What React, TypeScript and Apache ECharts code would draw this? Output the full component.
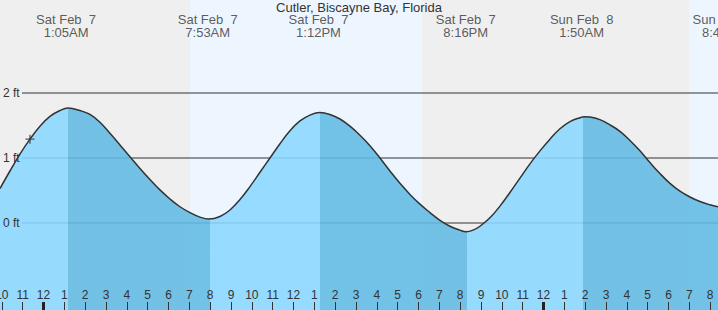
import { useEffect, useRef } from "react";
import * as echarts from "echarts";

// ---------- data ----------
const chartTitle = "Cutler, Biscayne Bay, Florida";

// hours since Sat Feb 7 00:00 and tide height in feet
const tideHours = [
  -2.09, -1.61, -1.13, -0.65, -0.17, 0.31, 0.79, 1.18, 1.75, 2.23, 2.71, 3.19,
  3.67, 4.2, 4.63, 5.11, 5.59, 6.07, 6.55, 7.03, 7.51, 7.94, 8.47, 8.95, 9.43,
  9.91, 10.39, 10.87, 11.35, 11.83, 12.31, 12.79, 13.27, 13.75, 14.23, 14.71,
  15.19, 15.67, 16.15, 16.63, 17.11, 17.59, 18.07, 18.55, 19.03, 19.51, 19.99,
  20.28, 20.62, 20.95, 21.43, 21.91, 22.39, 22.87, 23.35, 23.83, 24.31, 24.79,
  25.27, 25.75, 25.95, 26.23, 26.71, 27.19, 27.67, 28.15, 28.63, 29.11, 29.59,
  30.07, 30.55, 31.03, 31.51, 31.99, 32.38,
];
const tideFeet = [
  0.53, 0.8, 1.06, 1.29, 1.49, 1.64, 1.73, 1.77, 1.73, 1.67, 1.55, 1.38,
  1.2, 1.0, 0.84, 0.67, 0.51, 0.37, 0.25, 0.16, 0.09, 0.06, 0.1, 0.2, 0.36,
  0.56, 0.78, 1.0, 1.22, 1.42, 1.57, 1.66, 1.7, 1.67, 1.6, 1.49,
  1.35, 1.19, 1.0, 0.8, 0.61, 0.44, 0.29, 0.16, 0.04, -0.05, -0.11,
  -0.134, -0.11, -0.05, 0.08, 0.26, 0.47, 0.69, 0.91, 1.11, 1.29, 1.45,
  1.56, 1.62, 1.635, 1.63, 1.59, 1.51, 1.41, 1.27, 1.11, 0.93, 0.76,
  0.61, 0.49, 0.4, 0.33, 0.28, 0.25,
];

// high / low tide events
const eventHours = [1.083, 7.883, 13.2, 20.267, 25.833, 32.68];
const eventDays = ["Sat Feb  7", "Sat Feb  7", "Sat Feb  7", "Sat Feb  7", "Sun Feb  8", "Sun Feb  8"];
const eventTimes = ["1:05AM", "7:53AM", "1:12PM", "8:16PM", "1:50AM", "8:41AM"];

// falling-tide (ebb) spans
const ebbStartHours = [1.18, 13.27, 25.9];
const ebbEndHours = [7.99, 20.33, 32.7];

// daylight spans
const sunriseHours = [7.03, 31.0];
const sunsetHours = [18.17, 42.17];

// axis ticks
const hourTicks = [
  -2, -1, 0, 1, 2, 3, 4, 5, 6, 7, 8, 9, 10, 11, 12, 13, 14, 15, 16, 17, 18,
  19, 20, 21, 22, 23, 24, 25, 26, 27, 28, 29, 30, 31, 32,
];
const midnightTicks = [0, 24];
const footTicks = [0, 1, 2];

// current-time marker
const nowHour = -0.65;
const nowFeet = 1.29;

// ---------- layout / style ----------
const W = 718;
const H = 310;
const PX_PER_HOUR = 500 / 24;
const ORIGIN_PX = 43.5;
const ZERO_PX = 223;
const PX_PER_FT = 65;
const X_MIN = -ORIGIN_PX / PX_PER_HOUR;
const X_MAX = (W - ORIGIN_PX) / PX_PER_HOUR;
const Y_MAX = ZERO_PX / PX_PER_FT;
const Y_MIN = -(H - ZERO_PX) / PX_PER_FT;
const LINE_START = X_MIN + 22 / PX_PER_HOUR;
const LABEL_FT = Y_MAX - 26 / PX_PER_FT;

const FONT = "'Liberation Sans', Arial, Helvetica, sans-serif";
const TEXT = "#333";
const NIGHT = "#efefef";
const DAY = "#edf6ff";
const WATER_LIGHT = "rgba(138,216,255,0.88)";
const WATER_DARK = "rgba(98,186,228,0.88)";

function clockLabel(h: number) {
  const v = ((Math.round(h) % 12) + 12) % 12;
  return String(v === 0 ? 12 : v);
}

export default function App() {
  const ref = useRef<HTMLDivElement>(null);

  useEffect(() => {
    if (!ref.current) return;
    const chart = echarts.init(ref.current, undefined, { renderer: "svg" });

    // visual pieces: light for rising, dark for falling
    const bounds = [X_MIN - 5];
    ebbStartHours.forEach((s, i) => {
      bounds.push(s, ebbEndHours[i]);
    });
    bounds.push(X_MAX + 5);
    const pieces = [];
    for (let i = 0; i < bounds.length - 1; i++) {
      pieces.push({
        gte: bounds[i],
        lt: bounds[i + 1],
        color: i % 2 === 0 ? WATER_LIGHT : WATER_DARK,
      });
    }

    const bgAreas: any[] = [
      [{ xAxis: X_MIN, itemStyle: { color: NIGHT } }, { xAxis: X_MAX }],
    ];
    sunriseHours.forEach((s, i) => {
      bgAreas.push([
        { xAxis: s, itemStyle: { color: DAY } },
        { xAxis: Math.min(sunsetHours[i], X_MAX) },
      ]);
    });

    const tideData = tideHours.map((h, i) => [h, tideFeet[i]]);

    const footLineSeries = footTicks.map((v) => ({
      type: "line",
      z: 2,
      silent: true,
      symbol: "none",
      data: [
        [LINE_START, v],
        [X_MAX, v],
      ],
      lineStyle: { color: TEXT, width: 1 },
    }));

    chart.setOption({
      animation: false,
      textStyle: { fontFamily: FONT },
      title: {
        text: chartTitle,
        left: "center",
        top: 0,
        padding: 0,
        textStyle: {
          fontSize: 13,
          fontWeight: "normal",
          color: TEXT,
          fontFamily: FONT,
          lineHeight: 14,
        },
      },
      grid: {
        left: 0,
        right: 0,
        top: 0,
        bottom: 0,
        containLabel: false,
        outerBoundsMode: "none",
      },
      xAxis: [
        {
          type: "value",
          min: X_MIN,
          max: X_MAX,
          position: "bottom",
          z: 10,
          axisLine: { show: false, onZero: false },
          splitLine: { show: false },
          axisTick: {
            show: true,
            inside: true,
            length: 8,
            lineStyle: { color: TEXT, width: 1 },
            customValues: hourTicks,
          },
          axisLabel: {
            show: true,
            inside: true,
            margin: 9,
            fontSize: 12,
            color: TEXT,
            fontFamily: FONT,
            customValues: hourTicks,
            formatter: (v: number) => clockLabel(v),
          },
        },
        {
          type: "value",
          min: X_MIN,
          max: X_MAX,
          position: "bottom",
          z: 11,
          axisLine: { show: false, onZero: false },
          splitLine: { show: false },
          axisLabel: { show: false },
          axisTick: {
            show: true,
            inside: true,
            length: 8,
            lineStyle: { color: "#222", width: 3 },
            customValues: midnightTicks,
          },
        },
      ],
      yAxis: {
        type: "value",
        min: Y_MIN,
        max: Y_MAX,
        z: 10,
        axisLine: { show: false, onZero: false },
        axisTick: { show: false },
        splitLine: { show: false },
        axisLabel: {
          show: true,
          inside: true,
          margin: 3,
          fontSize: 12,
          color: TEXT,
          fontFamily: FONT,
          customValues: footTicks,
          formatter: (v: number) => `${v} ft`,
        },
      },
      visualMap: {
        type: "piecewise",
        show: false,
        seriesIndex: 0,
        dimension: 0,
        pieces,
      },
      series: [
        {
          type: "line",
          z: 3,
          silent: true,
          data: tideData,
          smooth: 0.4,
          showSymbol: false,
          symbol: "none",
          lineStyle: { color: "#333", width: 1.5 },
          areaStyle: { opacity: 1, origin: "start" },
          markArea: {
            silent: true,
            data: bgAreas,
          },
        },
        ...footLineSeries,
        {
          type: "scatter",
          z: 6,
          silent: true,
          clip: false,
          symbolSize: 0,
          data: eventHours.map((h, i) => ({
            value: [h, LABEL_FT],
            label: { formatter: `${eventDays[i]}\n${eventTimes[i]}` },
          })),
          label: {
            show: true,
            position: "inside",
            fontSize: 13,
            lineHeight: 13,
            color: TEXT,
            fontFamily: FONT,
            align: "center",
            verticalAlign: "middle",
          },
        },
        {
          type: "scatter",
          z: 7,
          silent: true,
          symbol: "path://M4 0V8M0 4H8",
          symbolSize: 9,
          data: [[nowHour, nowFeet]],
          itemStyle: { color: "none", borderColor: "#333", borderWidth: 1.3 },
        },
      ],
    });

    return () => chart.dispose();
  }, []);

  return (
    <div
      ref={ref}
      style={{ position: "absolute", left: 0, top: 0, width: W, height: H }}
    />
  );
}
